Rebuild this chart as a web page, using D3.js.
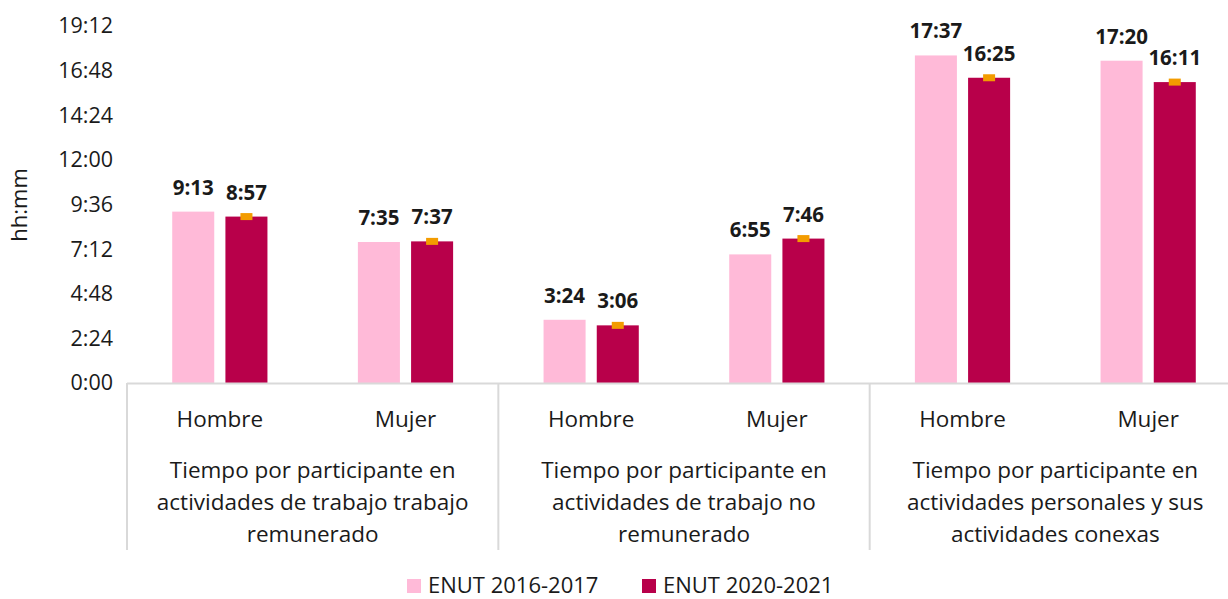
<!DOCTYPE html>
<html>
<head>
<meta charset="utf-8">
<script src="https://cdn.jsdelivr.net/npm/d3@7"></script>
<style>
  body { margin: 0; background: #fff; }
  text { font-family: "Open Sans", "Noto Sans", sans-serif; fill: #1a1a1a; }
</style>
</head>
<body>
<div id="chart-area"></div>
<script>
// values in minutes
var groups = [
  ["Tiempo por participante en", "actividades de trabajo trabajo", "remunerado"],
  ["Tiempo por participante en", "actividades de trabajo no", "remunerado"],
  ["Tiempo por participante en", "actividades personales y sus", "actividades conexas"]
];
var sexes = ["Hombre", "Mujer"];
var series = ["ENUT 2016-2017", "ENUT 2020-2021"];
var enut2017 = [553, 455, 204, 415, 1057, 1040];
var enut2021 = [537, 457, 186, 466, 985, 971];
var yTicks = [0, 144, 288, 432, 576, 720, 864, 1008, 1152];

var colors = ["#ffbad8", "#b8004a"];
var width = 1228, height = 599;

var svg = d3.select("#chart-area").append("svg")
    .attr("width", width)
    .attr("height", height);

function fmt(m) {
    var h = Math.floor(m / 60), mm = m % 60;
    return h + ":" + (mm < 10 ? "0" : "") + mm;
}

var data = [];
groups.forEach((g, gi) => {
    sexes.forEach((s, si) => {
        var i = gi * 2 + si;
        data.push({group: gi, sex: s, vals: [enut2017[i], enut2021[i]]});
    });
});

var x0 = d3.scaleBand()
    .domain(d3.range(groups.length))
    .range([127, 1241]);

var x1 = d3.scaleBand()
    .domain(sexes)
    .range([0, x0.bandwidth()]);

var x2 = d3.scaleBand()
    .domain(series)
    .range([0, x1.bandwidth()])
    .paddingInner(0.21)
    .paddingOuter(0.85);

var y = d3.scaleLinear()
    .domain([0, 1152])
    .range([383, 26]);

// y axis labels
var leftAxis = d3.axisLeft(y)
    .tickValues(yTicks)
    .tickSize(0)
    .tickPadding(0)
    .tickFormat(fmt);
var ya = svg.append("g")
    .attr("transform", "translate(113,0)")
    .call(leftAxis);
ya.select(".domain").remove();
ya.selectAll("text")
    .attr("font-size", "21.5px")
    .attr("font-family", "'Open Sans', sans-serif")
    .attr("fill", "#1a1a1a");

svg.append("text")
    .attr("transform", "translate(27,205) rotate(-90)")
    .attr("text-anchor", "middle")
    .attr("font-size", "22px")
    .text("hh:mm");

// bars
var cat = svg.selectAll(".cat").data(data).enter()
    .append("g")
    .attr("class", "cat")
    .attr("transform", d => "translate(" + (x0(d.group) + x1(d.sex)) + ",0)");

cat.selectAll("rect.bar")
    .data(d => d.vals.map((v, i) => ({s: series[i], v: v, i: i})))
    .enter().append("rect")
    .attr("class", "bar")
    .attr("x", d => x2(d.s))
    .attr("y", d => y(d.v))
    .attr("width", x2.bandwidth())
    .attr("height", d => y(0) - y(d.v))
    .attr("fill", d => colors[d.i]);

// small orange markers on the 2020-2021 bars
cat.append("rect")
    .attr("x", x2(series[1]) + x2.bandwidth() / 2 - 6)
    .attr("y", d => y(d.vals[1]) - 3.5)
    .attr("width", 12)
    .attr("height", 7)
    .attr("fill", "#f39c00");

cat.selectAll("text.val")
    .data(d => d.vals.map((v, i) => ({s: series[i], v: v})))
    .enter().append("text")
    .attr("class", "val")
    .attr("x", d => x2(d.s) + x2.bandwidth() / 2)
    .attr("y", d => y(d.v) - 17)
    .attr("text-anchor", "middle")
    .attr("font-size", "20.5px")
    .attr("font-weight", "bold")
    .text(d => fmt(d.v));

// x axis
svg.append("line")
    .attr("x1", 127).attr("x2", width)
    .attr("y1", 383.5).attr("y2", 383.5)
    .attr("stroke", "#d9d9d9")
    .attr("stroke-width", 2);

groups.forEach((g, gi) => {
    svg.append("line")
        .attr("x1", x0(gi)).attr("x2", x0(gi))
        .attr("y1", 383).attr("y2", 550)
        .attr("stroke", "#d9d9d9")
        .attr("stroke-width", 2);
    var t = svg.append("text")
        .attr("text-anchor", "middle")
        .attr("font-size", "22.5px");
    g.forEach((line, li) => {
        t.append("tspan")
            .attr("x", x0(gi) + x0.bandwidth() / 2)
            .attr("y", 478 + li * 32)
            .text(line);
    });
});

cat.append("text")
    .attr("x", x1.bandwidth() / 2)
    .attr("y", 427)
    .attr("text-anchor", "middle")
    .attr("font-size", "22.5px")
    .text(d => d.sex);

// legend
var legX = [407, 642];
series.forEach((s, i) => {
    svg.append("rect")
        .attr("x", legX[i]).attr("y", 579)
        .attr("width", 14).attr("height", 14)
        .attr("fill", colors[i]);
    svg.append("text")
        .attr("x", legX[i] + 21)
        .attr("y", 593)
        .attr("font-size", "22px")
        .text(s);
});
</script>
</body>
</html>
